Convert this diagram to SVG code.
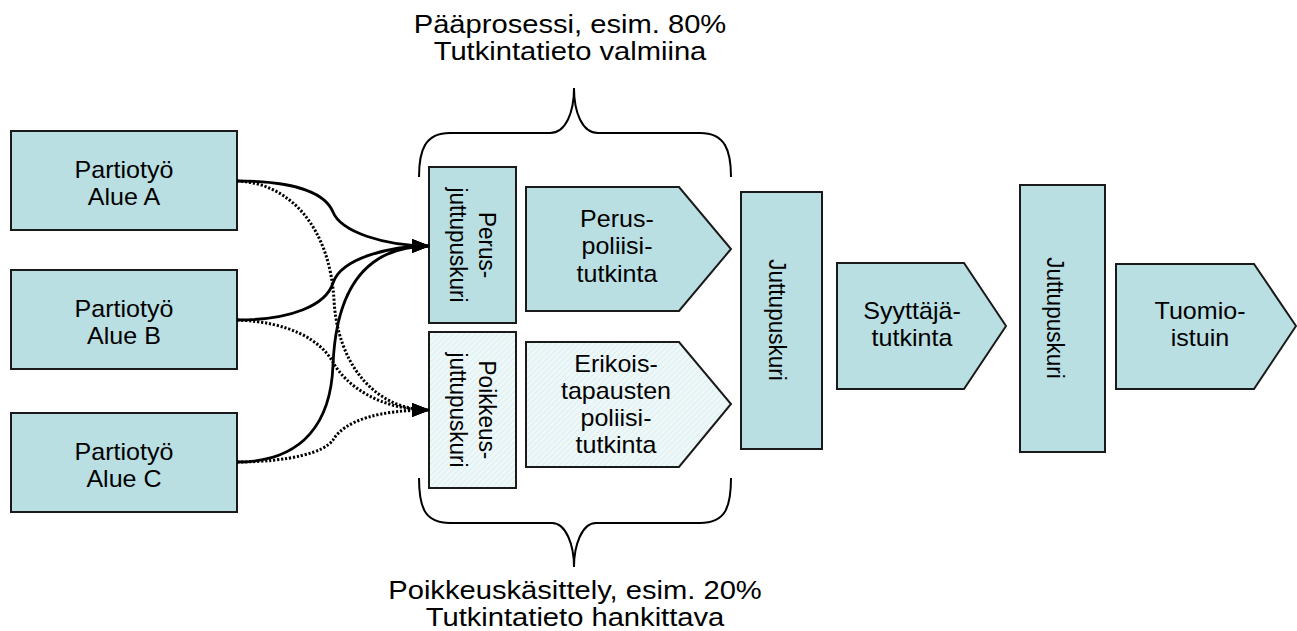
<svg xmlns="http://www.w3.org/2000/svg" width="1297" height="631" viewBox="0 0 1297 631">
  <style>
    .box { fill: #B9DFE2; stroke: #1a1a1a; stroke-width: 2; }
    .hatch { fill: url(#hatch); stroke: #1a1a1a; stroke-width: 2; }
    .t { font-family: "Liberation Sans", Arial, sans-serif; font-size: 23px; fill: #000; text-anchor: middle; }
    .tv { font-family: "Liberation Sans", Arial, sans-serif; font-size: 22.5px; fill: #000; text-anchor: middle; }
    .lbl { font-family: "Liberation Sans", Arial, sans-serif; font-size: 26.5px; fill: #000; text-anchor: middle; }
    .brace { fill: none; stroke: #000; stroke-width: 2; }
    .solid { fill: none; stroke: #000; stroke-width: 2.8; marker-end: url(#arr); }
    .dot { fill: none; stroke: #000; stroke-width: 3; stroke-dasharray: 2.2 1.8; marker-end: url(#arr); }
  </style>
  <defs>
    <pattern id="hatch" width="4" height="4" patternUnits="userSpaceOnUse" patternTransform="rotate(45)">
      <rect width="4" height="4" fill="#EEF8F9"/>
      <line x1="0" y1="0" x2="0" y2="4" stroke="#CFE7EA" stroke-width="1.1"/>
    </pattern>
    <marker id="arr" markerWidth="18" markerHeight="14" refX="17" refY="7" orient="auto" markerUnits="userSpaceOnUse">
      <path d="M0,0 L18,7 L0,14 Z" fill="#000"/>
    </marker>
  </defs>

  <!-- patrol areas -->
  <g id="alueA">
    <rect class="box" x="11" y="131" width="226" height="99"/>
    <text class="t" transform="translate(124,178) scale(1.09,1)"><tspan x="0" y="0">Partiotyö</tspan><tspan x="0" y="27">Alue A</tspan></text>
  </g>
  <g id="alueB">
    <rect class="box" x="11" y="270" width="226" height="99"/>
    <text class="t" transform="translate(124,317) scale(1.09,1)"><tspan x="0" y="0">Partiotyö</tspan><tspan x="0" y="27">Alue B</tspan></text>
  </g>
  <g id="alueC">
    <rect class="box" x="11" y="413" width="226" height="99"/>
    <text class="t" transform="translate(124,460) scale(1.09,1)"><tspan x="0" y="0">Partiotyö</tspan><tspan x="0" y="27">Alue C</tspan></text>
  </g>

  <!-- case buffers at the intake -->
  <g id="perusPuskuri">
    <rect class="box" x="429" y="167" width="87" height="156"/>
    <text class="tv" transform="translate(479,245) scale(1.1,1) rotate(90)">Perus-</text>
    <text class="tv" transform="translate(450,245) scale(1.1,1) rotate(90)">juttupuskuri</text>
  </g>
  <g id="poikkeusPuskuri">
    <rect class="hatch" x="429" y="332" width="87" height="156"/>
    <text class="tv" transform="translate(479,410) scale(1.1,1) rotate(90)">Poikkeus-</text>
    <text class="tv" transform="translate(450,410) scale(1.1,1) rotate(90)">juttupuskuri</text>
  </g>

  <!-- police investigation stages -->
  <g id="perusTutkinta">
    <path class="box" d="M526,187 L679,187 L731,249 L679,311 L526,311 Z"/>
    <text class="t" transform="translate(617,227) scale(1.09,1)"><tspan x="0" y="0">Perus-</tspan><tspan x="0" y="27.5">poliisi-</tspan><tspan x="0" y="55">tutkinta</tspan></text>
  </g>
  <g id="erikoisTutkinta">
    <path class="hatch" d="M526,342 L679,342 L731,404 L679,467 L526,467 Z"/>
    <text class="t" transform="translate(616,372) scale(1.09,1)"><tspan x="0" y="0">Erikois-</tspan><tspan x="0" y="27">tapausten</tspan><tspan x="0" y="54">poliisi-</tspan><tspan x="0" y="81">tutkinta</tspan></text>
  </g>

  <!-- downstream chain -->
  <g id="juttupuskuri1">
    <rect class="box" x="741" y="192" width="81" height="257"/>
    <text class="tv" transform="translate(769,320) scale(1.1,1) rotate(90)">Juttupuskuri</text>
  </g>
  <g id="syyttajatutkinta">
    <path class="box" d="M837,263 L964,263 L1006,326 L964,389 L837,389 Z"/>
    <text class="t" transform="translate(912,319) scale(1.09,1)"><tspan x="0" y="0">Syyttäjä-</tspan><tspan x="0" y="27">tutkinta</tspan></text>
  </g>
  <g id="juttupuskuri2">
    <rect class="box" x="1020" y="185" width="85" height="267"/>
    <text class="tv" transform="translate(1047,318) scale(1.1,1) rotate(90)">Juttupuskuri</text>
  </g>
  <g id="tuomioistuin">
    <path class="box" d="M1116,264 L1254,264 L1296,326 L1254,389 L1116,389 Z"/>
    <text class="t" transform="translate(1200,319) scale(1.09,1)"><tspan x="0" y="0">Tuomio-</tspan><tspan x="0" y="27">istuin</tspan></text>
  </g>

  <!-- braces with their captions -->
  <g id="paaprosessi">
    <path class="brace" d="M419,177 C419,150 425,133 450,133 L550,133 C566,133 574,112 574,88 C574,112 582,133 598,133 L700,133 C725,133 731,150 731,177"/>
    <text class="lbl" transform="translate(570,33) scale(1.1,1)"><tspan x="0" y="0">Pääprosessi, esim. 80%</tspan><tspan x="0" y="27">Tutkintatieto valmiina</tspan></text>
  </g>
  <g id="poikkeuskasittely">
    <path class="brace" d="M419,478 C419,508 425,523 450,523 L552,523 C566,523 574,545 574,567 C574,545 582,523 596,523 L700,523 C725,523 731,508 731,478"/>
    <text class="lbl" transform="translate(575,599) scale(1.1,1)"><tspan x="0" y="0">Poikkeuskäsittely, esim. 20%</tspan><tspan x="0" y="27">Tutkintatieto hankittava</tspan></text>
  </g>

  <!-- connectors: solid to the main buffer, dotted to the exception buffer -->
  <g id="connectors">
    <path class="solid" d="M237,181 C300,181 326,195 333,212 C341,232 385,246 429,246"/>
    <path class="solid" d="M237,320 C292,320 326,305 333,283 C341,258 390,246 429,246"/>
    <path class="solid" d="M237,462 C305,462 331,420 333,365 C336,290 365,246 429,246"/>
    <path class="dot" d="M237,181 C292,183 330,230 334,300 C337,360 372,410 429,410"/>
    <path class="dot" d="M237,320 C290,322 320,340 333,362 C345,385 380,410 429,410"/>
    <path class="dot" d="M237,462 C290,462 325,452 333,440 C345,420 380,410 429,410"/>
  </g>
</svg>
